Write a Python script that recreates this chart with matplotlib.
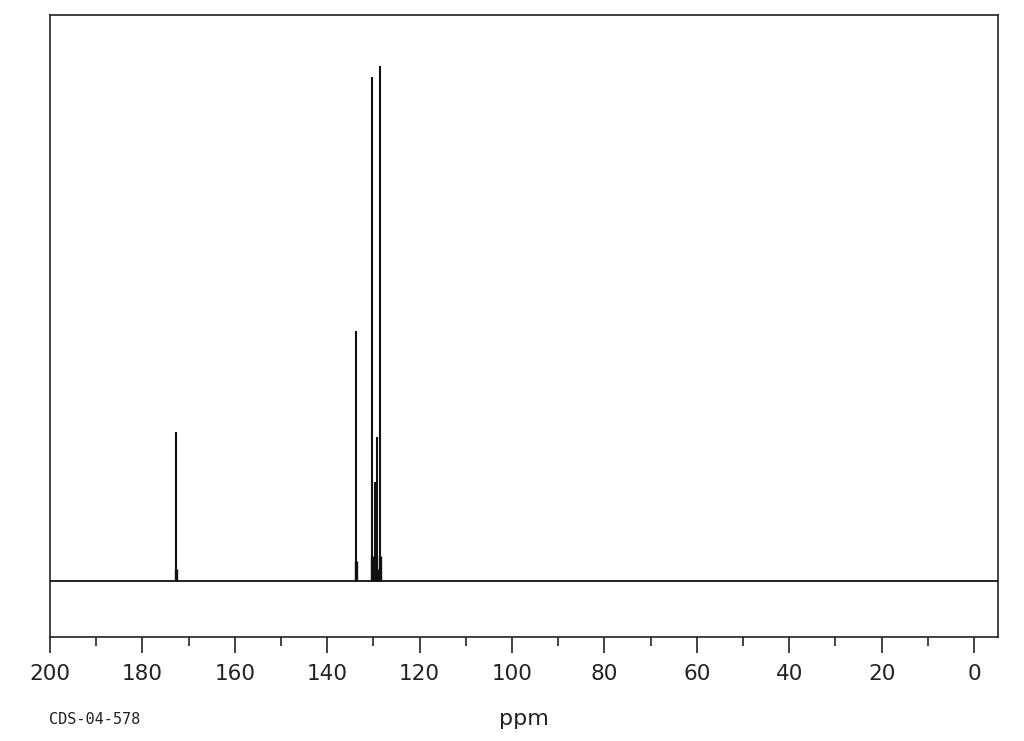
import matplotlib
matplotlib.use("Agg")
import matplotlib.pyplot as plt
from matplotlib.ticker import MultipleLocator

# Peak positions (ppm) and intensities (arbitrary units)
peak_ppm = [172.8, 133.8, 130.4, 129.7, 129.2, 128.6]
peak_height = [149, 250, 504, 99, 144, 515]

x_ticks = [200, 180, 160, 140, 120, 100, 80, 60, 40, 20, 0]
x_label = "ppm"
sample_id = "CDS-04-578"

fig = plt.figure(figsize=(10.24, 7.41), dpi=100)
ax = fig.add_axes([50/1024, 1-637/741, (998-50)/1024, (637-15)/741])

line_col = "#111111"
ax.axhline(0, color=line_col, lw=1.3, zorder=2)
ax.vlines(peak_ppm, 0, peak_height, color=line_col, lw=1.5, zorder=3)
# slightly thicker foot of each line
ax.vlines(peak_ppm, 0, [min(0.08 * h, 25) for h in peak_height], color=line_col, lw=2.4, zorder=3)

ax.set_xlim(200, -5.2)
ax.set_ylim(-56, 566)
ax.set_yticks([])
ax.set_xticks(x_ticks)
ax.set_xticklabels([str(t) for t in x_ticks])
ax.xaxis.set_minor_locator(MultipleLocator(10))
ax.tick_params(axis="x", which="major", direction="out", length=11.5, width=1.2,
               pad=8, labelsize=15.5, color="#222222", labelcolor="#222222")
ax.tick_params(axis="x", which="minor", direction="out", length=6.5, width=1.2, color="#222222")
for s in ax.spines.values():
    s.set_linewidth(1.2)
    s.set_color("#222222")

ax.set_xlabel(x_label, fontsize=16, color="#222222", labelpad=18)
fig.text(49/1024, 1-719/741, sample_id, fontsize=11, family="DejaVu Sans Mono",
         va="center", ha="left", color="#222222")

fig.savefig("out.png", dpi=100)
